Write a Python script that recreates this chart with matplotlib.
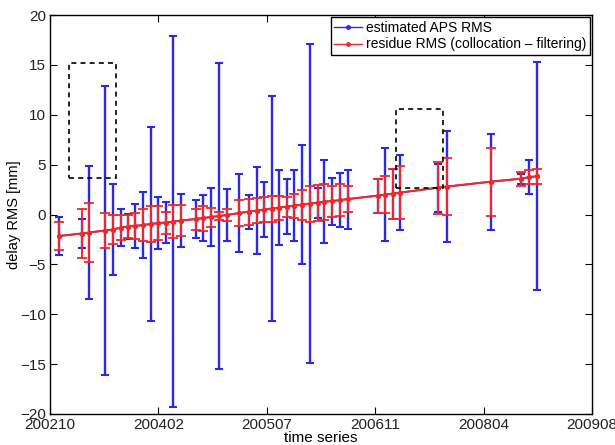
import matplotlib
matplotlib.use('Agg')
import matplotlib.pyplot as plt
from matplotlib.lines import Line2D
from matplotlib.patches import Rectangle

plt.rcParams['font.family'] = ['Liberation Sans', 'DejaVu Sans']

# acquisition time, months after 2002-10
months = [1.41, 4.80, 5.95, 8.32, 9.58, 10.70, 11.75, 12.86, 14.02, 15.28,
          16.38, 17.50, 18.65, 19.82, 22.04, 23.19, 24.31, 25.57, 26.73, 28.59,
          30.15, 31.27, 32.42, 33.54, 34.69, 35.81, 36.96, 38.17, 39.33, 40.50,
          41.50, 42.71, 43.87, 45.04, 49.58, 50.68, 51.85, 52.95, 58.74, 59.99,
          66.72, 71.26, 72.51, 73.72]

# mean delay [mm]
delay = [-2.15, -1.90, -1.80, -1.60, -1.50, -1.30, -1.20, -1.15, -1.05, -0.95,
         -0.85, -0.80, -0.70, -0.60, -0.45, -0.35, -0.25, -0.15, -0.05, 0.15,
         0.30, 0.40, 0.50, 0.60, 0.70, 0.80, 0.90, 1.00, 1.10, 1.20,
         1.30, 1.35, 1.45, 1.55, 1.90, 2.00, 2.10, 2.20, 2.70, 2.80,
         3.30, 3.60, 3.75, 3.85]

# estimated APS RMS [mm]
aps_rms = [1.95, 1.50, 6.70, 14.5, 4.55, 1.85, 1.30, 2.20, 3.30, 9.75,
           2.60, 2.10, 18.6, 2.65, 1.90, 2.30, 2.90, 15.35, 2.60, 3.90,
           1.70, 4.40, 2.80, 11.3, 3.80, 2.75, 3.60, 6.00, 16.0, 1.50,
           4.15, 2.35, 2.70, 2.95, 1.70, 4.70, 2.50, 3.75, 2.40, 5.60,
           4.80, 0.50, 1.70, 11.4]

# residue RMS (collocation - filtering) [mm]
res_rms = [1.38, 2.50, 3.00, 1.80, 1.45, 1.30, 1.20, 1.30, 1.60, 1.80,
           1.70, 1.10, 1.65, 1.60, 1.05, 1.25, 0.95, 0.40, 0.60, 1.30,
           1.30, 1.25, 1.25, 1.30, 1.20, 1.00, 1.20, 1.50, 1.80, 1.80,
           1.80, 1.55, 1.60, 1.30, 1.70, 1.85, 2.50, 2.65, 2.60, 2.85,
           3.40, 0.70, 0.70, 0.75]

tick_labels = ['200210', '200402', '200507', '200611', '200804', '200908']
x_end = 82.0

blue = '#2a2ae6'
red = '#f02828'

fig = plt.figure(figsize=(6.15, 4.45), dpi=100)
ax = fig.add_axes([0.0813, 0.0697, 0.8813, 0.8963])

ax.errorbar(months, delay, yerr=aps_rms, color=blue, ecolor=blue, elinewidth=1.7,
            capsize=3.2, capthick=1.5, lw=1.2, marker='.', ms=4)
ax.errorbar(months, delay, yerr=res_rms, color=red, ecolor=red, elinewidth=1.4,
            capsize=3.5, capthick=1.3, lw=1.5, marker='.', ms=5.5)

# highlighted groups
for x0, x1, y0, y1 in [(2.92, 9.94, 3.7, 15.2), (52.3, 59.4, 2.63, 10.6)]:
    ax.add_patch(Rectangle((x0, y0), x1 - x0, y1 - y0, fill=False, ec='black',
                           lw=1.2, ls=(0, (3, 2.5)), zorder=5))

ax.set_xlim(0, x_end)
ax.set_ylim(-20, 20)
ax.set_xticks([x_end * i / 5 for i in range(6)])
ax.set_xticklabels(tick_labels)
ax.set_yticks(range(-20, 21, 5))
ax.tick_params(direction='in', top=True, right=True, length=5, labelsize=11,
               labelcolor='#222222', pad=3)
for s in ax.spines.values():
    s.set_linewidth(1.0)

ax.set_xlabel('time series', fontsize=11, labelpad=-1)
ax.set_ylabel('delay RMS [mm]', fontsize=10.5, labelpad=-1)

handles = [Line2D([], [], color=blue, marker='.', ms=5, lw=1),
           Line2D([], [], color=red, marker='.', ms=5, lw=1)]
leg = ax.legend(handles, ['estimated APS RMS', 'residue RMS (collocation \u2013 filtering)'],
                loc='upper right', fontsize=10, fancybox=False, edgecolor='black',
                framealpha=1, borderpad=0.25, labelspacing=0.2, handlelength=2.0,
                handletextpad=0.3, borderaxespad=0.15)
leg.get_frame().set_linewidth(1.0)

fig.savefig('out.png', dpi=100)
